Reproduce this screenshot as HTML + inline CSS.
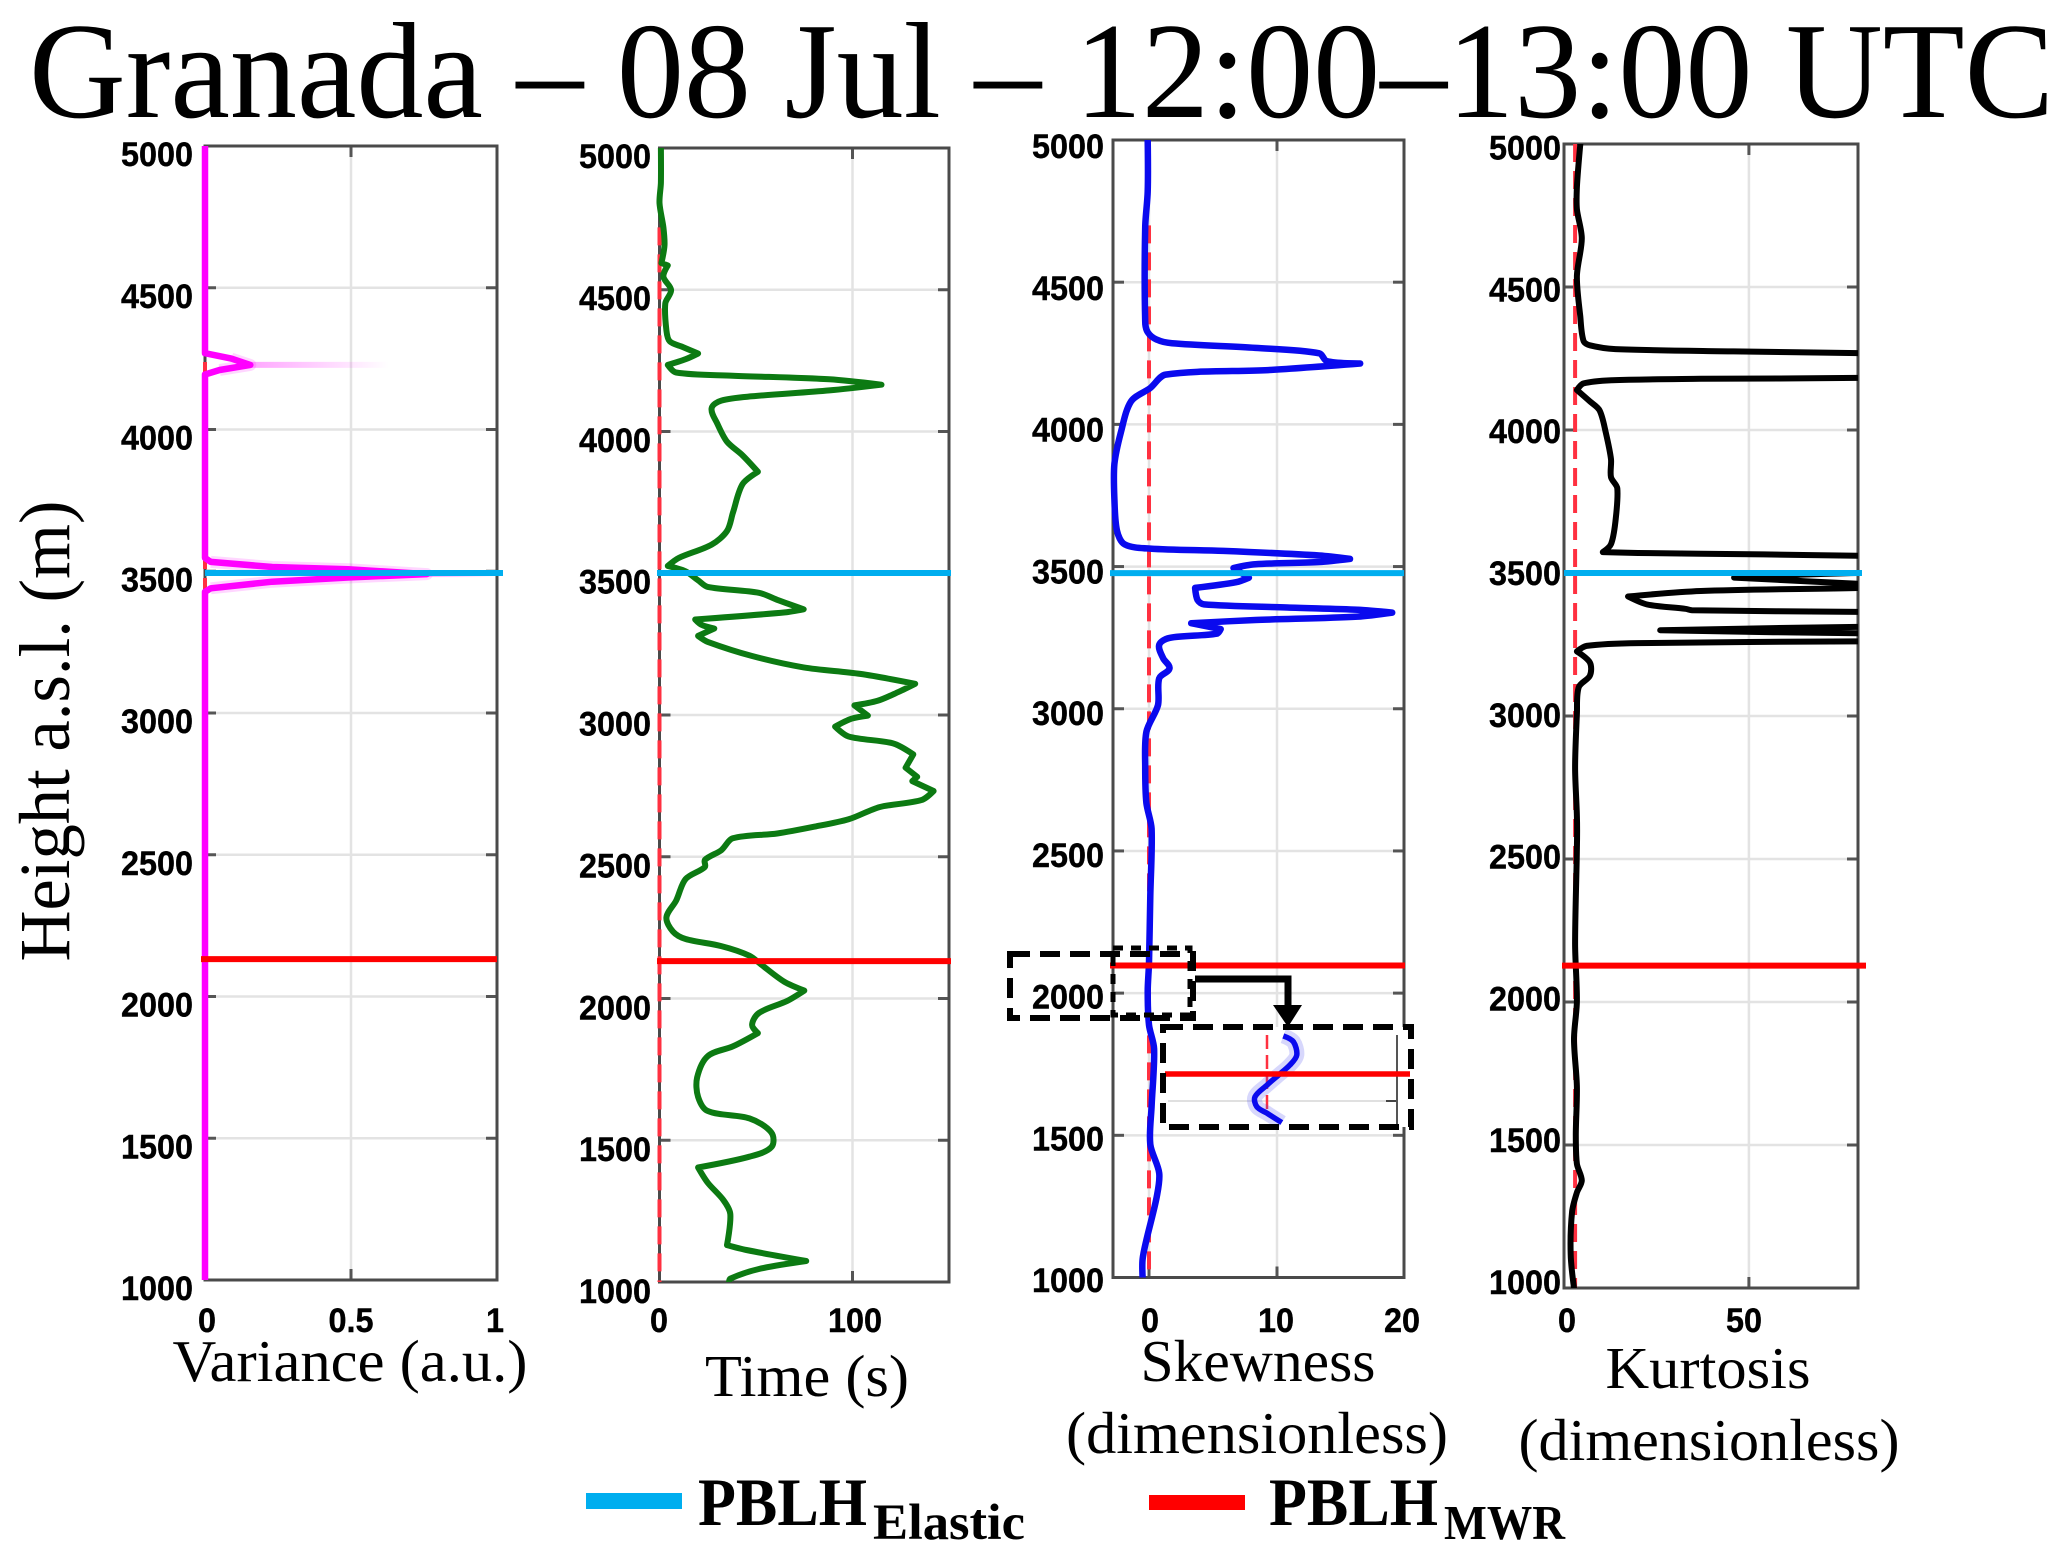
<!DOCTYPE html>
<html lang="en">
<head>
<meta charset="utf-8">
<title>Granada – 08 Jul – 12:00–13:00 UTC</title>
<style>
html,body{margin:0;padding:0;background:#fff;}
svg{display:block;}
.serif{font-family:"Liberation Serif",serif;fill:#000;}
.tick{font-family:"Liberation Sans",sans-serif;font-weight:bold;font-size:34px;fill:#000;stroke:#000;stroke-width:0.4px;}
</style>
</head>
<body>
<svg id="figure" xmlns="http://www.w3.org/2000/svg" width="2067" height="1558" viewBox="0 0 2067 1558">
  <rect x="0" y="0" width="2067" height="1558" fill="#fff"/>
  <text class="serif" x="29" y="117" font-size="137" textLength="2025" lengthAdjust="spacingAndGlyphs">Granada – 08 Jul – 12:00–13:00 UTC</text>
  <text class="serif" transform="translate(69,731) rotate(-90)" text-anchor="middle" font-size="72" textLength="461" lengthAdjust="spacingAndGlyphs">Height a.s.l. (m)</text>
  <g id="panels"></g>
  <text class="serif" x="350" y="1381" text-anchor="middle" font-size="59" textLength="355" lengthAdjust="spacingAndGlyphs">Variance (a.u.)</text>
  <text class="serif" x="807" y="1396" text-anchor="middle" font-size="59" textLength="204" lengthAdjust="spacingAndGlyphs">Time (s)</text>
  <text class="serif" x="1258" y="1381" text-anchor="middle" font-size="59" textLength="235" lengthAdjust="spacingAndGlyphs">Skewness</text>
  <text class="serif" x="1257" y="1453" text-anchor="middle" font-size="59" textLength="382" lengthAdjust="spacingAndGlyphs">(dimensionless)</text>
  <text class="serif" x="1708" y="1388" text-anchor="middle" font-size="59" textLength="205" lengthAdjust="spacingAndGlyphs">Kurtosis</text>
  <text class="serif" x="1709" y="1460" text-anchor="middle" font-size="59" textLength="381" lengthAdjust="spacingAndGlyphs">(dimensionless)</text>

  <g>
    <rect x="586" y="1493" width="96" height="16" fill="#00aeef"/>
    <text class="serif" x="698" y="1525" font-size="68" font-weight="bold" textLength="169" lengthAdjust="spacingAndGlyphs">PBLH</text>
    <text class="serif" x="873" y="1539" font-size="51" font-weight="bold" textLength="152" lengthAdjust="spacingAndGlyphs">Elastic</text>
    <rect x="1149" y="1495" width="96" height="15" fill="#ff0000"/>
    <text class="serif" x="1269" y="1525" font-size="68" font-weight="bold" textLength="169" lengthAdjust="spacingAndGlyphs">PBLH</text>
    <text class="serif" x="1444" y="1539" font-size="49" font-weight="bold" textLength="121" lengthAdjust="spacingAndGlyphs">MWR</text>
  </g>

  <defs>
    <linearGradient id="pinkFade" x1="0" y1="0" x2="1" y2="0">
      <stop offset="0" stop-color="#ff00ff" stop-opacity="0.35"/>
      <stop offset="1" stop-color="#ff00ff" stop-opacity="0"/>
    </linearGradient>
  </defs>

  <g id="inset">
    <rect x="1163" y="1027" width="248" height="100" fill="#fff"/>
    <line x1="1168" y1="1101" x2="1392" y2="1101" stroke="#e0e0e0" stroke-width="2"/>
    <line x1="1386" y1="1101" x2="1397" y2="1101" stroke="#444" stroke-width="2"/>
    <line x1="1397" y1="1035" x2="1397" y2="1125" stroke="#555" stroke-width="2"/>
  </g>
  <g id="zoom-marks">
    <rect x="1113" y="948" width="77" height="67" fill="none" stroke="#000" stroke-width="5" stroke-dasharray="10 8"/>
    <rect x="1010" y="954" width="183" height="64" fill="none" stroke="#000" stroke-width="6" stroke-dasharray="20 10"/>
    <rect x="1163" y="1027" width="248" height="100" fill="none" stroke="#000" stroke-width="6" stroke-dasharray="20 10"/>
    <path d="M1195 979 H1288 V1008" fill="none" stroke="#000" stroke-width="7"/>
    <polygon points="1273,1005 1302,1005 1288,1027" fill="#000"/>
  </g>
</svg>

<script>
// ---------- shared tick data ----------
const heightTicks = [1000, 1500, 2000, 2500, 3000, 3500, 4000, 4500, 5000];
const varianceTicks = [0, 0.5, 1];
const timeTicks = [0, 100];
const skewnessTicks = [0, 10, 20];
const kurtosisTicks = [0, 50];

// ---------- PBLH heights (m) per panel ----------
const elasticPblh = [3494, 3501, 3477, 3500];
const mwrPblh = [2132, 2132, 2097, 2127];

// ---------- variance profile ----------
const varianceHeights = [5000,4269,4250,4228,4210,4194,3547,3533,3515,3507,3490,3478,3463,3440,3427,1000];
const varianceValues = [0,0,0.09,0.155,0.05,0,0,0.02,0.23,0.49,0.76,0.49,0.23,0.02,0,0];
const varianceHaloHeights = [4228, 3490];
const varianceHaloStart = [0.155, 0.76];
const varianceHaloEnd = [0.63, 1];

// ---------- time profile ----------
const timeHeights = [
5000,4877,4806,4720,4657,4594,4586,4546,4499,4452,
4357,4318,4298,4275,4255,4235,4208,4197,4184,4165,
4145,4124,4109,4082,4027,3964,3916,3858,3814,3712,
3649,3601,3554,3526,3507,3475,3452,3431,3405,3373,
3362,3337,3318,3305,3279,3258,3208,3168,3145,3110,
3082,3050,3034,2998,2987,2959,2924,2900,2861,2814,
2782,2767,2732,2700,2675,2632,2607,2582,2565,2523,
2489,2464,2421,2345,2286,2236,2210,2185,2151,2118,
2059,2028,1991,1949,1907,1878,1831,1797,1721,1653,
1603,1577,1527,1476,1442,1404,1350,1290,1240,1130,
1113,1074,1046,1012,1000];
const timeValues = [
0.7,0.7,0,2,2.6,1,4.3,2,6,3,
3.6,5.3,12,20,13.5,4.3,8.6,38,88,115,
88,48,32,27,30,35,43,51,43,38,
35,27,10,4.3,13.5,20,25,51.5,61.5,74.7,
65,18.5,21.8,28.4,20,25,48,74.7,104,132.5,
124,113,101,108,99.5,91,98,121,131.5,127.5,
133.5,131,142,135.8,114,98,81,61,38,32,
23.5,23.5,13.5,8.6,3.6,7,13.5,32,46.6,53,
64.7,75,66,51.5,48,51,38,25,19.5,20,
25,46.6,58,58,46.6,20,25,33,36.7,35,
45,76,51.5,36.7,36];

// ---------- skewness profile ----------
const skewnessHeights = [
5000,4819,4693,4363,4324,4298,4285,4269,4250,4222,
4214,4191,4175,4128,4081,3971,3861,3736,3626,3578,
3563,3555,3539,3527,3516,3508,3495,3461,3445,3425,
3382,3367,3356,3348,3338,3324,3312,3301,3280,3264,
3249,3225,3178,3142,3107,3013,2919,2794,2668,2578,
2343,2107,2006,1888,1804,1602,1468,1367,1283,1132,
1064,1000];
const skewnessValues = [
-0.1,-0.1,-0.3,-0.3,-0.1,0.6,1.8,8.3,13.3,13.9,
16.5,9.3,1.3,0.1,-1.4,-2.2,-2.7,-2.7,-2.5,-1.9,
0.1,5.8,13.3,15.7,13.3,8.3,6.6,7.8,6.8,3.6,
3.8,4.3,10.8,16.3,19,16.3,8.3,3.3,5.6,5.3,
1.6,0.8,1.1,1.6,0.8,0.7,-0.2,-0.3,-0.2,0.2,
0.1,0,-0.1,0,0.4,0.2,0.1,0.8,0.6,-0.2,
-0.5,-0.5];

// ---------- kurtosis profile ----------
const kurtosisHeights = [
5000,4850,4772,4670,4538,4397,4311,4296,4283,4275,
4269,4225,4182,4179,4174,4163,4140,4100,4069,3991,
3898,3835,3796,3679,3601,3573,3570,3565,3560,3530,
3500,3484,3462,3455,3448,3437,3418,3390,3375,3370,
3364,3338,3312,3300,3289,3275,3261,3255,3245,3226,
3187,3141,3101,3008,2820,2649,2539,2204,2003,1870,
1702,1535,1434,1376,1334,1267,1117,1000];
const kurtosisValues = [
4.4,3.5,3.5,4.8,3.5,4.4,5.3,7,13.9,45.8,
80,300,80,37,13,5.3,3.5,7,9.6,11.3,
12.7,12.7,14.4,13.9,12.7,10.5,20,54,80,300,
80,46,80,95,80,37,17.3,22.5,32.8,34.6,
80,300,80,26,80,300,80,20,6.1,3.5,
7,7,4,3.5,3,3.5,3.5,3,3.5,2.7,
3.5,3.2,3.5,4.8,3.5,2.2,1.8,2.7];

// ---------- dashed reference (threshold) per panel ----------
const thresholdValues = [0, 0, 0, 3];
const thresholdTopHeights = [5000, 4720, 4700, 5000];

// ---------- skewness inset (zoomed view) ----------
const insetHeights = [2231,2211,2164,2129,2088,2058,2017,1982,1959,1926];
const insetValues = [0.65,1.05,1.19,0.92,0.39,0,-0.48,-0.41,0,0.59];
const insetThreshold = [0];
const insetPblh = [2097];

const SVG_NS = 'http://www.w3.org/2000/svg';
function make(tag, attrs, parent) {
  const el = document.createElementNS(SVG_NS, tag);
  for (const k in attrs) el.setAttribute(k, attrs[k]);
  parent.appendChild(el);
  return el;
}

// Smooth path through points, keeping sharp spikes as corners.
function smoothPath(pts, k) {
  function unit(a, b) {
    const dx = b[0] - a[0], dy = b[1] - a[1];
    const l = Math.hypot(dx, dy) || 1;
    return [dx / l, dy / l];
  }
  function tangent(i) {
    if (i <= 0 || i >= pts.length - 1) return [0, 0];
    const a = unit(pts[i - 1], pts[i]), b = unit(pts[i], pts[i + 1]);
    if (a[0] * b[0] + a[1] * b[1] < 0.2) return [0, 0];
    return unit(pts[i - 1], pts[i + 1]);
  }
  let d = 'M' + pts[0][0].toFixed(1) + ' ' + pts[0][1].toFixed(1);
  for (let i = 0; i < pts.length - 1; i++) {
    const len = Math.hypot(pts[i + 1][0] - pts[i][0], pts[i + 1][1] - pts[i][1]);
    const t1 = tangent(i), t2 = tangent(i + 1);
    d += ' C' + (pts[i][0] + t1[0] * len * k).toFixed(1) + ' ' + (pts[i][1] + t1[1] * len * k).toFixed(1) +
         ' ' + (pts[i + 1][0] - t2[0] * len * k).toFixed(1) + ' ' + (pts[i + 1][1] - t2[1] * len * k).toFixed(1) +
         ' ' + pts[i + 1][0].toFixed(1) + ' ' + pts[i + 1][1].toFixed(1);
  }
  return d;
}

function tickTextWidth(s) {
  let w = 0;
  for (const c of s) w += (c === '.') ? 9 : 18;
  return w;
}

const panelDefs = [
  {key:'variance', left:205, right:497, top:146, bottom:1280, xMin:0, xMax:1, labelRight:193, labelTop:154, labelBottom:1288, labelX0:207, labelK:288, smooth:0,
   xTicks:varianceTicks, heights:varianceHeights, values:varianceValues, color:'#ff00ff', width:6.5, elasticL:205, elasticR:503, mwrL:201, mwrR:497, idx:0},
  {key:'time', left:659.5, right:949, top:148, bottom:1282, xMin:0, xMax:150, labelRight:651, labelTop:156, labelBottom:1291, labelX0:659, labelK:1.96, smooth:0.3,
   xTicks:timeTicks, heights:timeHeights, values:timeValues, color:'#0c7a12', width:6, elasticL:657, elasticR:951, mwrL:657, mwrR:951, idx:1},
  {key:'skewness', left:1113, right:1404, top:140, bottom:1277.5, xMin:-2.8125, xMax:19.92, labelRight:1104, labelTop:146, labelBottom:1280, labelX0:1150, labelK:12.6, smooth:0.3,
   xTicks:skewnessTicks, heights:skewnessHeights, values:skewnessValues, color:'#0a0aee', width:6.5, elasticL:1110, elasticR:1404, mwrL:1110, mwrR:1405, idx:2},
  {key:'kurtosis', left:1564, right:1858, top:144, bottom:1288, xMin:0, xMax:79.5, labelRight:1561, labelTop:147.5, labelBottom:1282, labelX0:1567, labelK:3.54, smooth:0.3,
   xTicks:kurtosisTicks, heights:kurtosisHeights, values:kurtosisValues, color:'#000000', width:6, elasticL:1564, elasticR:1862, mwrL:1562, mwrR:1866, idx:3}
];

const panelsRoot = document.getElementById('panels');
const defsEl = document.querySelector('#figure defs');

panelDefs.forEach(function (p) {
  const xScale = function (v) { return p.left + (v - p.xMin) / (p.xMax - p.xMin) * (p.right - p.left); };
  const yScale = function (h) { return p.bottom - (h - 1000) / 4000 * (p.bottom - p.top); };
  const labelY = function (h) { return p.labelBottom - (h - 1000) / 4000 * (p.labelBottom - p.labelTop); };

  const g = make('g', {}, panelsRoot);
  
  

  const clip = make('clipPath', {id: 'clip-' + p.key}, defsEl);
  make('rect', {x: p.left - 6, y: p.top, width: p.right - p.left + 6, height: p.bottom - p.top}, clip);

  // horizontal gridlines + y ticks
  heightTicks.forEach(function (h) {
    const y = yScale(h);
    if (h !== 1000 && h !== 5000) {
      const gl = make('line', {x1: p.left, x2: p.right, y1: y, y2: y, stroke: '#e3e3e3', 'stroke-width': 2.5}, g);
      
      
      const t1 = make('line', {x1: p.left, x2: p.left + 11, y1: y, y2: y, stroke: '#555', 'stroke-width': 3}, g);
      
      
      const t2 = make('line', {x1: p.right - 11, x2: p.right, y1: y, y2: y, stroke: '#555', 'stroke-width': 3}, g);
      
      
    }
    const lab = make('text', {x: p.labelRight, y: labelY(h) + 12, 'text-anchor': 'end', 'class': 'tick', textLength: tickTextWidth(String(h)), lengthAdjust: 'spacingAndGlyphs'}, g);
    
    
    lab.textContent = String(h);
  });

  // vertical gridlines + x ticks
  p.xTicks.forEach(function (v) {
    const x = xScale(v);
    if (v > p.xMin + 0.01 * (p.xMax - p.xMin) && v < p.xMax - 0.02 * (p.xMax - p.xMin)) {
      const gl = make('line', {x1: x, x2: x, y1: p.top, y2: p.bottom, stroke: '#e3e3e3', 'stroke-width': 2.5}, g);
      
      
      const t1 = make('line', {x1: x, x2: x, y1: p.top, y2: p.top + 11, stroke: '#555', 'stroke-width': 3}, g);
      
      
      const t2 = make('line', {x1: x, x2: x, y1: p.bottom - 11, y2: p.bottom, stroke: '#555', 'stroke-width': 3}, g);
      
      
    }
    const lab = make('text', {x: p.labelX0 + v * p.labelK, y: 1332, 'text-anchor': 'middle', 'class': 'tick', textLength: tickTextWidth(String(v)), lengthAdjust: 'spacingAndGlyphs'}, g);
    
    
    lab.textContent = String(v);
  });

  // axes box
  const box = make('rect', {x: p.left, y: p.top, width: p.right - p.left, height: p.bottom - p.top, fill: 'none', stroke: '#4a4a4a', 'stroke-width': 3}, g);
  
  

  // dashed threshold line (hidden under the magenta curve in the variance panel)
  const thr = make('line', {
    x1: xScale(thresholdValues[p.idx]), x2: xScale(thresholdValues[p.idx]),
    y1: yScale(thresholdTopHeights[p.idx]), y2: yScale(1000),
    stroke: '#ff3040', 'stroke-width': 4, 'stroke-dasharray': '18 9'
  }, g);
  
  

  const pts = p.heights.map(function (h, i) { return [xScale(p.values[i]), yScale(h)]; });
  const curveD = smoothPath(pts, p.smooth);

  // pale halo for variance: fading tails plus a soft band around each peak only
  if (p.key === 'variance') {
    varianceHaloHeights.forEach(function (h, i) {
      const hr = make('rect', {
        x: xScale(varianceHaloStart[i]), y: yScale(h) - 3,
        width: xScale(varianceHaloEnd[i]) - xScale(varianceHaloStart[i]), height: 6,
        fill: 'url(#pinkFade)'
      }, g);
      
      
    });
    let bandD = '';
    let inRun = false;
    p.heights.forEach(function (h, i) {
      if (p.values[i] > 0.015) {
        bandD += (inRun ? ' L' : ' M') + xScale(p.values[i]).toFixed(1) + ' ' + yScale(h).toFixed(1);
        inRun = true;
      } else {
        inRun = false;
      }
    });
    const band = make('path', {
      d: bandD.trim(),
      fill: 'none', stroke: '#ff00ff', 'stroke-opacity': 0.16, 'stroke-width': 12, 'stroke-linejoin': 'round',
      'clip-path': 'url(#clip-' + p.key + ')'
    }, g);
    
    
  }

  // profile curve
  const curve = make('path', {
    d: curveD, fill: 'none', stroke: p.color, 'stroke-width': p.width,
    'stroke-linejoin': 'round', 'stroke-linecap': 'round', 'clip-path': 'url(#clip-' + p.key + ')'
  }, g);
  
  

  // PBLH lines
  const red = make('line', {x1: p.mwrL, x2: p.mwrR, y1: yScale(mwrPblh[p.idx]), y2: yScale(mwrPblh[p.idx]), stroke: '#ff0000', 'stroke-width': 6}, g);
  
  
  const blue = make('line', {x1: p.elasticL, x2: p.elasticR, y1: yScale(elasticPblh[p.idx]), y2: yScale(elasticPblh[p.idx]), stroke: '#00aeef', 'stroke-width': 6}, g);
  
  
});

// ---------- inset axis functions ----------
function insetX(v) { return 1267 + v * 25; }
function insetY(h) { return 1074 - (h - 2097) * 0.2844; }

const insetRoot = document.getElementById('inset');
const insetPts = insetHeights.map(function (h, i) { return [insetX(insetValues[i]), insetY(h)]; });
const insetD = smoothPath(insetPts, 0.3);

const insetThr = make('line', {x1: insetX(insetThreshold[0]), x2: insetX(insetThreshold[0]), y1: 1035, y2: 1110, stroke: '#ff3040', 'stroke-width': 2.5, 'stroke-dasharray': '14 6'}, insetRoot);



const insetHalo = make('path', {d: insetD, fill: 'none', stroke: '#4a4af0', 'stroke-opacity': 0.22, 'stroke-width': 15, 'stroke-linejoin': 'round'}, insetRoot);



const insetCurve = make('path', {d: insetD, fill: 'none', stroke: '#0a0aee', 'stroke-width': 5.5, 'stroke-linejoin': 'round'}, insetRoot);



const insetRed = make('line', {x1: 1165, x2: 1410, y1: insetY(insetPblh[0]), y2: insetY(insetPblh[0]), stroke: '#ff0000', 'stroke-width': 5.5}, insetRoot);


</script>
</body>
</html>
